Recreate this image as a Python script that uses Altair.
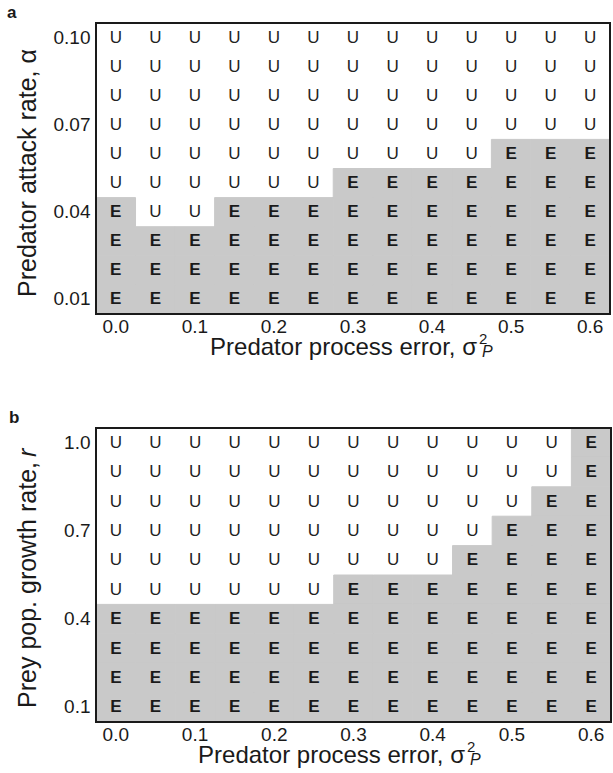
import altair as alt
import pandas as pd

FONT = "Liberation Sans"
GRAY = "#c9c9c9"
INK = "#1a1a1a"

# Predator process error (columns)
x_values = ["0.0", "0.05", "0.1", "0.15", "0.2", "0.25", "0.3",
            "0.35", "0.4", "0.45", "0.5", "0.55", "0.6"]
x_tick_labels = ["0.0", "0.1", "0.2", "0.3", "0.4", "0.5", "0.6"]

# Panel a: predator attack rate (rows, top to bottom)
alpha_values = ["0.10", "0.09", "0.08", "0.07", "0.06",
                "0.05", "0.04", "0.03", "0.02", "0.01"]
alpha_tick_labels = ["0.10", "0.07", "0.04", "0.01"]
alpha_outcomes = [
    "UUUUUUUUUUUUU",
    "UUUUUUUUUUUUU",
    "UUUUUUUUUUUUU",
    "UUUUUUUUUUUUU",
    "UUUUUUUUUUEEE",
    "UUUUUUEEEEEEE",
    "EUUEEEEEEEEEE",
    "EEEEEEEEEEEEE",
    "EEEEEEEEEEEEE",
    "EEEEEEEEEEEEE",
]

# Panel b: prey population growth rate (rows, top to bottom)
r_values = ["1.0", "0.9", "0.8", "0.7", "0.6",
            "0.5", "0.4", "0.3", "0.2", "0.1"]
r_tick_labels = ["1.0", "0.7", "0.4", "0.1"]
r_outcomes = [
    "UUUUUUUUUUUUE",
    "UUUUUUUUUUUUE",
    "UUUUUUUUUUUEE",
    "UUUUUUUUUUEEE",
    "UUUUUUUUUEEEE",
    "UUUUUUEEEEEEE",
    "EEEEEEEEEEEEE",
    "EEEEEEEEEEEEE",
    "EEEEEEEEEEEEE",
    "EEEEEEEEEEEEE",
]


def grid_frame(y_values, outcomes):
    rows = []
    for i, yv in enumerate(y_values):
        for j, xv in enumerate(x_values):
            rows.append({"x": xv, "y": yv, "o": outcomes[i][j]})
    return pd.DataFrame(rows)


def label(text, x, y, size, **kw):
    return alt.Chart(pd.DataFrame({"t": [text]})).mark_text(
        font=FONT, fontSize=size, color=INK, **kw
    ).encode(text="t:N", x=alt.value(x), y=alt.value(y))


def panel(df, y_values, y_ticks, w, h, ylab_pad, letter, letter_x,
          ytitle_layers, sig_x):
    xs = alt.X("x:O", sort=x_values,
               scale=alt.Scale(domain=x_values, paddingInner=0, paddingOuter=0),
               axis=alt.Axis(values=x_tick_labels, labelAngle=0, ticks=False,
                             domain=False, grid=False, title=None,
                             labelFont=FONT, labelFontSize=19, labelColor=INK,
                             labelPadding=3))
    ys = alt.Y("y:O", sort=y_values,
               scale=alt.Scale(domain=y_values, paddingInner=0, paddingOuter=0),
               axis=alt.Axis(values=y_ticks, ticks=False, domain=False,
                             grid=False, title=None, labelFont=FONT,
                             labelFontSize=19, labelColor=INK,
                             labelPadding=ylab_pad))
    base = alt.Chart(df)
    rect = base.transform_filter("datum.o == 'E'").mark_rect(
        fill=GRAY, stroke=GRAY, strokeWidth=1
    ).encode(x=xs, y=ys)
    text_e = base.transform_filter("datum.o == 'E'").mark_text(
        font=FONT, fontSize=17, fontWeight="bold", color=INK
    ).encode(x=xs, y=ys, text="o:N")
    text_u = base.transform_filter("datum.o == 'U'").mark_text(
        font=FONT, fontSize=17, color="#222222"
    ).encode(x=xs, y=ys, text="o:N")

    # frame drawn above the shaded cells
    frame = alt.Chart(pd.DataFrame({"t": ["frame"]})).mark_rect(
        filled=False, stroke=INK, strokeWidth=2
    ).encode(x=alt.value(0), x2=alt.value(w), y=alt.value(0), y2=alt.value(h))

    xt_base = h + 41
    xtitle = [
        label("Predator process error, \u03c3", sig_x, xt_base, 24,
              align="right", baseline="alphabetic"),
        label("2", sig_x + 2, xt_base - 11, 15, align="left",
              baseline="alphabetic"),
        label("P", sig_x + 5, xt_base + 2, 16, align="left",
              baseline="alphabetic", fontStyle="italic"),
    ]
    letter_mark = label(letter, letter_x, -5, 17, align="left",
                        baseline="alphabetic", fontWeight="bold")
    layers = [rect, text_e, text_u, frame, letter_mark] + ytitle_layers + xtitle
    return alt.layer(*layers).properties(width=w, height=h)


df_a = grid_frame(alpha_values, alpha_outcomes)
df_b = grid_frame(r_values, r_outcomes)

ytitle_a = [label("Predator attack rate, \u03b1", -60, 150, 25, angle=270,
                  align="center", baseline="alphabetic")]
ytitle_b = [
    label("Prey pop. growth rate,", -60, 34, 25, angle=270, align="right",
          baseline="alphabetic"),
    label("r", -60, 29, 25, angle=270, align="left", baseline="alphabetic",
          fontStyle="italic"),
]

panel_a = panel(df_a, alpha_values, alpha_tick_labels, 514, 291, 6, "a", -89,
                ytitle_a, 381)
panel_b = panel(df_b, r_values, r_tick_labels, 515, 294, 6, "b", -87,
                ytitle_b, 369)

chart = alt.vconcat(panel_a, panel_b, spacing=49).configure(
    padding={"left": 7, "top": 4, "right": 0, "bottom": 0},
    background="white",
).configure_view(strokeWidth=0)

chart.save("out.html", embed_options={"renderer": "svg", "actions": False})
